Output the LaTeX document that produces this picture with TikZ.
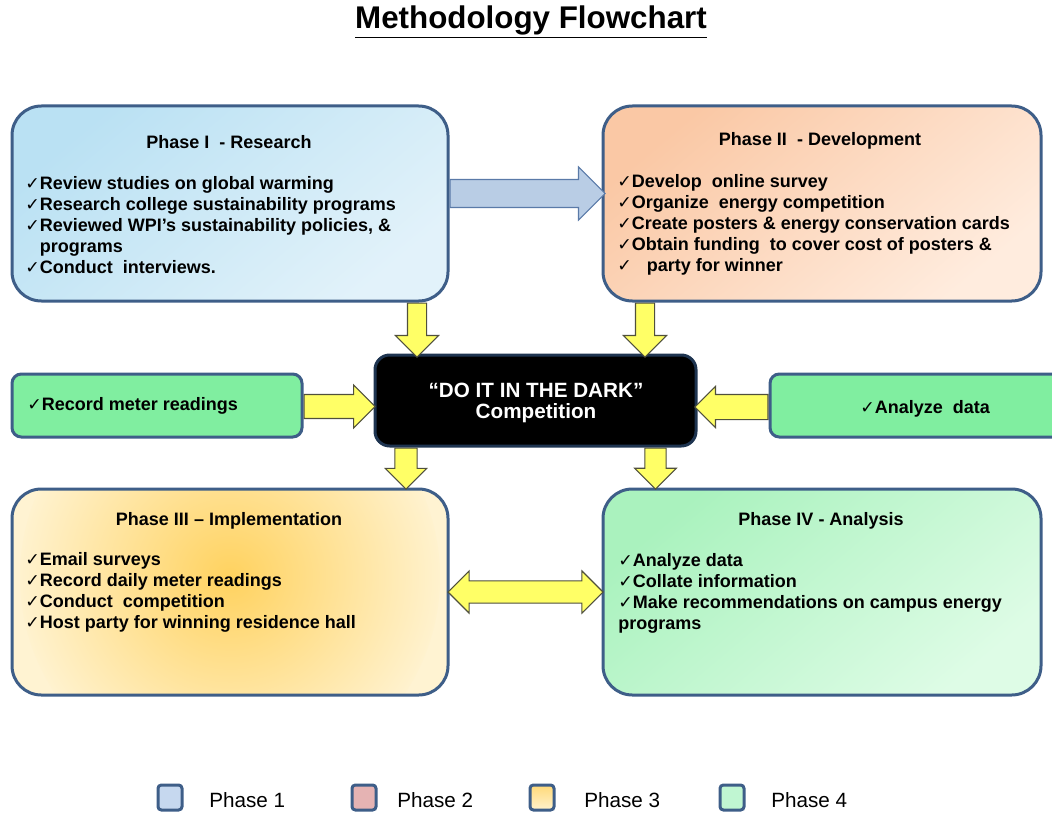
\documentclass[tikz,border=0pt]{standalone}
\usepackage{fontspec}
\setmainfont{Liberation Sans}
\newfontfamily\dejavu{DejaVu Sans}
\usetikzlibrary{shapes.arrows,calc}
\definecolor{bordc}{RGB}{62,94,136}
\definecolor{pAa}{RGB}{186,225,243}
\definecolor{pAb}{RGB}{226,242,250}
\definecolor{pBa}{RGB}{250,200,165}
\definecolor{pBb}{RGB}{255,236,222}
\definecolor{pCa}{RGB}{255,210,95}
\definecolor{pCb}{RGB}{255,243,210}
\definecolor{pDa}{RGB}{170,242,190}
\definecolor{pDb}{RGB}{222,252,230}
\definecolor{gbox}{RGB}{128,238,160}
\definecolor{yfill}{RGB}{255,255,102}
\definecolor{ydark}{RGB}{80,80,60}
\definecolor{bfill}{RGB}{185,205,229}
\definecolor{bdark}{RGB}{90,122,168}
\definecolor{cbord}{RGB}{30,52,80}
\definecolor{lg1}{RGB}{198,216,239}
\definecolor{lg2}{RGB}{229,179,179}
\definecolor{lg3}{RGB}{255,217,120}
\definecolor{lg3b}{RGB}{255,242,205}
\definecolor{lg4}{RGB}{192,246,210}
\newcommand{\ck}{{\dejavu\fontsize{13}{13}\selectfont ✓}}
\begin{document}
\begin{tikzpicture}[x=0.75pt,y=-0.75pt,
  phasebox/.style={draw=bordc,line width=2.25pt,rounded corners=22pt,inner sep=0pt},
  gbx/.style={draw=bordc,line width=2.25pt,rounded corners=7pt,fill=gbox,inner sep=0pt},
  bodytxt/.style={font=\fontsize{13.5}{15.75}\selectfont\bfseries,align=left,inner sep=0pt,anchor=north west},
  ttl/.style={font=\fontsize{13.5}{15.75}\selectfont\bfseries,inner sep=0pt,anchor=base},
  yarr/.style={single arrow,draw=ydark,fill=yfill,line width=0.8pt,single arrow head indent=0pt,anchor=tail},
  legsq/.style={draw=bordc,line width=2.25pt,rounded corners=2.5pt,minimum width=18pt,minimum height=18.75pt,inner sep=0pt},
  legtxt/.style={font=\fontsize{15.5}{17}\selectfont,inner sep=0pt,anchor=west}]
\useasboundingbox (0,0) rectangle (1052,813);

% title
\node[font=\fontsize{23.5}{27}\selectfont\bfseries,inner sep=0pt] (title) at (531,22) {\underline{Methodology Flowchart}};

% phase boxes
\node[phasebox,minimum width=327pt,minimum height=146.25pt,top color=pAa,bottom color=pAb,shading angle=40] (p1) at (230,203.5) {};
\node[phasebox,minimum width=328.5pt,minimum height=146.25pt,top color=pBa,bottom color=pBb,shading angle=40] (p2) at (822,203.5) {};
\node[phasebox,minimum width=327pt,minimum height=154.5pt,fill=pCb,
  path picture={\shade[inner color=pCa,outer color=pCb] ($(path picture bounding box.center)+(0,-15)$) circle (210);}] (p3) at (230,592) {};
\node[phasebox,minimum width=328.5pt,minimum height=154.5pt,top color=pDa,bottom color=pDb,shading angle=40] (p4) at (822,592) {};

% centre and side boxes
\node[draw=cbord,line width=2.25pt,rounded corners=11pt,fill=black,minimum width=240.75pt,minimum height=68.25pt,inner sep=0pt] (c) at (535.5,400.5) {};
\node[gbx,minimum width=217.5pt,minimum height=47.25pt] (g1) at (157,405.5) {};
\node[gbx,minimum width=221.25pt,minimum height=47.25pt] (g2) at (917.5,405.5) {};

% arrows
\node[single arrow,draw=bdark,fill=bfill,line width=0.8pt,inner sep=10.1pt,single arrow head indent=0pt,anchor=tail,
  minimum height=116.25pt,minimum width=39pt,single arrow head extend=9.4pt] (a12) at ($(p1.east)+(0,-10)$) {};
\node[yarr,inner sep=6.75pt,minimum height=40.5pt,minimum width=31.5pt,single arrow head extend=9pt,shape border rotate=270] (d1) at (p1.south -| 417,0) {};
\node[yarr,inner sep=6.75pt,minimum height=40.5pt,minimum width=31.5pt,single arrow head extend=9pt,shape border rotate=270] (d2) at (p2.south -| 645,0) {};
\node[yarr,inner sep=8.6pt,minimum height=53.25pt,minimum width=31.5pt,single arrow head extend=7.1pt] (l1) at ($(g1.east)+(0,1)$) {};
\node[yarr,inner sep=9pt,minimum height=54.75pt,minimum width=30pt,single arrow head extend=6pt,shape border rotate=180] (r1) at ($(g2.west)+(0,1.5)$) {};
\node[yarr,inner sep=8pt,minimum height=30.75pt,minimum width=30.75pt,single arrow head extend=7.1pt,shape border rotate=270] (d3) at (c.south -| 406,0) {};
\node[yarr,inner sep=7.6pt,minimum height=30.75pt,minimum width=30.75pt,single arrow head extend=7.6pt,shape border rotate=270] (d4) at (c.south -| 655.5,0) {};
\node[double arrow,draw=ydark,fill=yfill,line width=0.8pt,inner sep=7.9pt,double arrow head indent=0pt,
  minimum height=116.25pt,minimum width=30.75pt,double arrow head extend=7.5pt] (dbl) at ($(p3.east)!.5!(p4.west)$) {};

% texts
\node[ttl] (t1) at (229,149) {Phase I\ \ - Research};
\node[bodytxt] (b1) at (25,176) {\ck Review studies on global warming\\
\ck Research college sustainability programs\\
\ck Reviewed WPI’s sustainability policies, \&\\
\hphantom{\ck}programs\\
\ck Conduct\ \ interviews.};

\node[ttl] (t2) at (820,146) {Phase II\ \ - Development};
\node[bodytxt] (b2) at (617,174) {\ck Develop\ \ online survey\\
\ck Organize\ \ energy competition\\
\ck Create posters \& energy conservation cards\\
\ck Obtain funding\ \ to cover cost of posters \&\\
\ck\ \ \ party for winner};

\node[ttl] (t3) at (229,525) {Phase III – Implementation};
\node[bodytxt] (b3) at (25,552) {\ck Email surveys\\
\ck Record daily meter readings\\
\ck Conduct\ \ competition\\
\ck Host party for winning residence hall};

\node[ttl] (t4) at (821,525) {Phase IV - Analysis};
\node[bodytxt] (b4) at (618,553) {\ck Analyze data\\
\ck Collate information\\
\ck Make recommendations on campus energy\\
programs};

\node[font=\fontsize{15.5}{16}\selectfont\bfseries,text=white,align=center,inner sep=0pt] (ct) at (536,403) {“DO IT IN THE DARK”\\Competition};
\node[font=\fontsize{13.5}{15.75}\selectfont\bfseries,inner sep=0pt,anchor=west] (gt1) at (27,406) {\ck Record meter readings};
\node[font=\fontsize{13.5}{15.75}\selectfont\bfseries,inner sep=0pt,anchor=west] (gt2) at (860,409) {\ck Analyze\ \ data};

% legend
\node[legsq,fill=lg1] (ls1) at (170,797.5) {};
\node[legsq,fill=lg2] (ls2) at (364,797.5) {};
\node[legsq,top color=lg3,bottom color=lg3b] (ls3) at (542,797.5) {};
\node[legsq,fill=lg4] (ls4) at (732,797.5) {};
\node[legtxt] (lt1) at (209,800) {Phase 1};
\node[legtxt] (lt2) at (397,800) {Phase 2};
\node[legtxt] (lt3) at (584,800) {Phase 3};
\node[legtxt] (lt4) at (771,800) {Phase 4};
\end{tikzpicture}
\end{document}
